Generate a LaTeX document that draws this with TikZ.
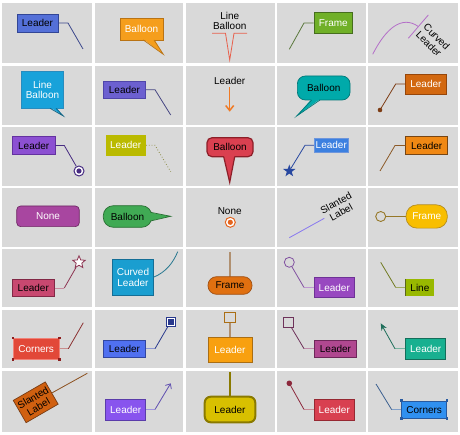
\documentclass[tikz,border=0pt]{standalone}
\usepackage{fontspec}
\setmainfont{Liberation Sans}
\usetikzlibrary{arrows.meta,shapes.geometric}
\newcommand\lf{\fontsize{10}{10.5}\selectfont}
\definecolor{cellgray}{RGB}{217,217,217}
\definecolor{c11}{RGB}{84,112,216}\definecolor{d11}{RGB}{50,70,150}\definecolor{l11}{RGB}{60,72,140}
\definecolor{c12}{RGB}{245,158,28}\definecolor{d12}{RGB}{185,115,20}
\definecolor{l13}{RGB}{232,96,76}
\definecolor{c14}{RGB}{112,176,40}\definecolor{d14}{RGB}{70,110,30}\definecolor{l14}{RGB}{90,120,60}
\definecolor{l15}{RGB}{180,110,200}
\definecolor{c21}{RGB}{24,162,218}\definecolor{d21}{RGB}{40,140,190}\definecolor{t21}{RGB}{20,100,130}
\definecolor{c22}{RGB}{108,96,208}\definecolor{d22}{RGB}{80,70,170}\definecolor{l22}{RGB}{70,70,130}
\definecolor{l23}{RGB}{240,122,36}
\definecolor{c24}{RGB}{0,170,170}\definecolor{d24}{RGB}{0,120,120}
\definecolor{c25}{RGB}{210,104,16}\definecolor{d25}{RGB}{150,70,10}\definecolor{l25}{RGB}{125,60,20}
\definecolor{c31}{RGB}{140,80,210}\definecolor{d31}{RGB}{100,50,160}\definecolor{l31}{RGB}{72,44,130}
\definecolor{c32}{RGB}{186,186,0}\definecolor{l32}{RGB}{140,140,70}
\definecolor{c33}{RGB}{218,64,80}\definecolor{d33}{RGB}{140,30,40}
\definecolor{c34}{RGB}{60,128,224}\definecolor{d34}{RGB}{110,150,220}\definecolor{l34}{RGB}{40,72,160}
\definecolor{c35}{RGB}{240,136,20}\definecolor{d35}{RGB}{120,70,20}\definecolor{l35}{RGB}{140,90,40}
\definecolor{c41}{RGB}{168,70,160}\definecolor{d41}{RGB}{110,40,100}
\definecolor{c42}{RGB}{64,170,84}\definecolor{d42}{RGB}{40,110,50}
\definecolor{l43}{RGB}{228,100,30}
\definecolor{l44}{RGB}{136,120,240}
\definecolor{c45}{RGB}{248,190,0}\definecolor{d45}{RGB}{180,140,30}\definecolor{l45}{RGB}{150,120,40}
\definecolor{c51}{RGB}{200,72,112}\definecolor{d51}{RGB}{130,40,70}\definecolor{l51}{RGB}{140,50,80}\definecolor{lt51}{RGB}{200,140,160}
\definecolor{c52}{RGB}{26,158,208}\definecolor{d52}{RGB}{20,110,150}\definecolor{l52}{RGB}{40,120,144}
\definecolor{c53}{RGB}{224,112,16}\definecolor{d53}{RGB}{160,80,20}\definecolor{l53}{RGB}{176,144,112}
\definecolor{c54}{RGB}{152,72,192}\definecolor{d54}{RGB}{110,50,150}\definecolor{l54}{RGB}{128,80,160}\definecolor{lt54}{RGB}{190,150,210}
\definecolor{c55}{RGB}{152,184,0}\definecolor{d55}{RGB}{90,100,30}\definecolor{l55}{RGB}{112,122,32}\definecolor{lt55}{RGB}{160,170,100}
\definecolor{c61}{RGB}{226,72,56}\definecolor{d61}{RGB}{240,130,120}\definecolor{k61}{RGB}{140,30,30}\definecolor{l61}{RGB}{140,50,50}\definecolor{lt61}{RGB}{200,140,140}
\definecolor{c62}{RGB}{80,112,240}\definecolor{d62}{RGB}{50,70,160}\definecolor{l62}{RGB}{40,56,140}\definecolor{lt62}{RGB}{140,150,210}
\definecolor{c63}{RGB}{248,160,16}\definecolor{d63}{RGB}{170,110,20}\definecolor{l63}{RGB}{176,144,112}
\definecolor{c64}{RGB}{176,72,144}\definecolor{d64}{RGB}{110,40,90}\definecolor{l64}{RGB}{110,50,90}\definecolor{lt64}{RGB}{190,140,170}
\definecolor{c65}{RGB}{24,176,144}\definecolor{d65}{RGB}{20,110,90}\definecolor{l65}{RGB}{30,110,90}\definecolor{lt65}{RGB}{120,180,160}
\definecolor{c71}{RGB}{208,96,16}\definecolor{d71}{RGB}{120,60,20}\definecolor{l71}{RGB}{140,80,30}
\definecolor{c72}{RGB}{136,84,238}\definecolor{d72}{RGB}{90,60,170}\definecolor{l72}{RGB}{96,80,176}\definecolor{lt72}{RGB}{160,150,220}
\definecolor{c73}{RGB}{216,192,0}\definecolor{d73}{RGB}{138,122,0}
\definecolor{c74}{RGB}{216,64,80}\definecolor{d74}{RGB}{150,40,50}\definecolor{l74}{RGB}{140,40,60}\definecolor{lt74}{RGB}{200,140,150}
\definecolor{c75}{RGB}{48,144,240}\definecolor{d75}{RGB}{40,90,160}\definecolor{l75}{RGB}{60,96,144}\definecolor{lt75}{RGB}{130,160,200}
\begin{document}
\begin{tikzpicture}[x=1pt,y=-1pt,
  bx/.style={draw, line width=0.7pt, inner sep=0pt, font=\lf, align=center},
  txt/.style={inner sep=1pt, font=\lf, align=center},
  ld/.style={line width=0.8pt}]
\useasboundingbox (0,0) rectangle (460,435);
\fill[white] (0,0) rectangle (460,435);
\foreach \xa/\xb in {2/92,95/183,186/275,277/366,368/458}
  \foreach \ya/\yb in {3/63,66/125,127/186,188/247,249/307,310/368,371/432}
    \fill[cellgray] (\xa,\ya) rectangle (\xb,\yb);
% ---------- row 1
\node[bx, fill=c11, draw=d11, minimum width=41pt, minimum height=18pt] (n11) at (37.5,23) {Leader};
\coordinate (b11) at (68,23); \coordinate (e11) at (83,49);
\draw[ld,l11] (n11.east) -- (b11) -- (e11);
\node[bx, fill=c12, draw=d12, text=white, minimum width=43pt, minimum height=22pt] (n12) at (141.5,29) {Balloon};
\fill[c12] (143.3,39) -- (154,39) -- (163.3,54.3) -- cycle;
\draw[line width=0.7pt,d12] (143.3,40) -- (163.3,54.3) -- (154,40);
\node[txt] (n13) at (229.7,21) {Line\\Balloon};
\draw[ld,l13] (212,33.3) -- (225.5,33.3) -- (229.7,60) -- (234,33.3) -- (247,33.3);
\node[bx, fill=c14, draw=d14, text=white, minimum width=38.7pt, minimum height=20.6pt] (n14) at (333.3,23) {Frame};
\coordinate (b14) at (304,23); \coordinate (e14) at (289.3,49.3);
\draw[ld,l14] (n14.west) -- (b14) -- (e14);
\node[txt, rotate=-45, align=left] (n15) at (433,40.5) {Curved\\Leader};
\coordinate (s15) at (372.7,54.3); \coordinate (e15) at (418.3,26.5);
\draw[ld,l15] (s15) .. controls (386,28) and (402,15) .. (e15);
\draw[ld,l15] (408.3,38.3) -- (428.3,15);
% ---------- row 2
\node[bx, fill=c21, draw=d21, text=white, minimum width=41.6pt, minimum height=36.6pt] (n21) at (42.5,90) {Line\\Balloon};
\fill[c21] (50,107.3) -- (56,107.3) -- (63.3,116) -- cycle;
\draw[line width=0.7pt,t21] (50,108.3) -- (63.3,116) -- (56,108.3);
\node[bx, fill=c22, draw=d22, minimum width=42.4pt, minimum height=17.3pt] (n22) at (124.5,89.7) {Leader};
\coordinate (b22) at (155,89.7); \coordinate (e22) at (170.7,115);
\draw[ld,l22] (n22.east) -- (b22) -- (e22);
\node[txt, inner sep=2.5pt] (n23) at (229.7,80.7) {Leader};
\coordinate (e23) at (229.7,111.7);
\draw[line width=1.5pt, l23, -{Straight Barb[length=5pt,width=8pt]}] (n23) -- (e23);
\node[bx, fill=c24, draw=d24, rounded corners=8pt, minimum width=52.7pt, minimum height=24pt] (n24) at (323.7,88) {Balloon};
\fill[c24] (311.7,99) -- (320,99) -- (296.7,116) -- cycle;
\draw[line width=0.7pt,d24] (311.7,100) -- (296.7,116) -- (320,100);
\node[bx, fill=c25, draw=d25, text=white, minimum width=40.3pt, minimum height=20pt] (n25) at (425.9,84) {Leader};
\coordinate (b25) at (395.7,84); \coordinate (e25) at (380,110);
\draw[ld,l25] (n25.west) -- (b25) -- (e25);
\fill[l25] (e25) circle (2.3);
% ---------- row 3
\node[bx, fill=c31, draw=d31, minimum width=42.7pt, minimum height=17.6pt] (n31) at (33.7,145.5) {Leader};
\coordinate (b31) at (64.3,145.5);
\node[circle, draw=l31, fill=white, line width=1pt, minimum size=10pt, inner sep=0pt] (t31) at (79,171) {};
\draw[ld,l31] (n31.east) -- (b31) -- (t31);
\fill[l31] (t31.center) circle (2.6);
\node[bx, draw=none, fill=c32, text=white, minimum width=40pt, minimum height=20.7pt] (n32) at (125.7,145.3) {Leader};
\coordinate (b32) at (155,145.3); \coordinate (e32) at (170.7,171.7);
\draw[ld,l32,dotted] (n32.east) -- (b32) -- (e32);
\node[bx, fill=c33, draw=d33, line width=1.2pt, rounded corners=5pt, minimum width=46pt, minimum height=19pt] (n33) at (230,147.2) {Balloon};
\fill[c33] (223.7,155.5) -- (234.7,155.5) -- (229.7,182.3) -- cycle;
\draw[line width=1.2pt,d33] (223.7,156.7) -- (229.7,182.3) -- (234.7,156.7);
\node[bx, fill=c34, draw=d34, text=white, minimum width=34pt, minimum height=14pt] (n34) at (331.3,145.3) {Leader};
\coordinate (b34) at (305,145.3);
\node[star, star points=5, star point ratio=2.5, fill=l34, minimum size=13pt, inner sep=0pt] (s34) at (289.3,171) {};
\draw[ld,l34] (n34.west) -- (b34) -- (s34);
\node[bx, fill=c35, draw=d35, minimum width=42pt, minimum height=17.6pt] (n35) at (426.7,145.5) {Leader};
\coordinate (b35) at (395,145.5); \coordinate (e35) at (380,171);
\draw[ld,l35] (n35.west) -- (b35) -- (e35);
% ---------- row 4
\node[bx, fill=c41, draw=d41, text=white, rounded corners=4pt, minimum width=62.6pt, minimum height=20.7pt] (n41) at (48,216.3) {None};
\node[bx, fill=c42, draw=d42, rounded corners=10pt, minimum width=48.4pt, minimum height=21.6pt] (n42) at (127.5,216.5) {Balloon};
\fill[c42] (149,212.3) -- (149,221) -- (170.7,216.3) -- cycle;
\draw[line width=0.7pt,d42] (150.5,212.3) -- (170.7,216.3) -- (150.5,221);
\node[txt] (n43) at (229.7,210.7) {None};
\node[circle, draw=l43, fill=white, line width=1pt, minimum size=10pt, inner sep=0pt] (t43) at (230.3,222.3) {};
\fill[l43] (t43.center) circle (2.6);
\node[txt, rotate=29] (n44) at (338.5,207.5) {Slanted\\Label};
\coordinate (s44) at (289.3,237.7); \coordinate (e44) at (324.3,218.3);
\draw[ld,l44] (s44) -- (e44);
\node[bx, fill=c45, draw=d45, text=white, rounded corners=11pt, minimum width=41.3pt, minimum height=23.3pt] (n45) at (426.7,216.5) {Frame};
\node[circle, draw=l45, line width=0.9pt, minimum size=10pt, inner sep=0pt] (t45) at (380.7,216.5) {};
\draw[ld,l45] (t45.east) -- (n45.west);
% ---------- row 5
\node[bx, fill=c51, draw=d51, minimum width=42pt, minimum height=17.4pt] (n51) at (33.3,288) {Leader};
\coordinate (b51) at (64.3,288);
\node[star, star points=5, star point ratio=2.2, draw=l51, fill=white, line width=0.8pt, minimum size=13pt, inner sep=0pt] (s51) at (79,262.3) {};
\draw[ld,lt51] (n51.east) -- (b51);
\draw[ld,l51] (b51) -- (s51);
\node[bx, fill=c52, draw=d52, text=white, minimum width=40.6pt, minimum height=35.7pt] (n52) at (133,277.2) {Curved\\Leader};
\coordinate (e52) at (177.7,251.7);
\draw[ld,l52] (n52.east) .. controls (166,272) and (173,263) .. (e52);
\coordinate (e53) at (230,251.7);
\draw[line width=1.5pt,l53] (230,280) -- (e53);
\node[bx, fill=c53, draw=d53, rounded corners=8.5pt, minimum width=44pt, minimum height=17.6pt] (n53) at (230,285.5) {Frame};
\node[bx, fill=c54, draw=d54, text=white, minimum width=40pt, minimum height=20.4pt] (n54) at (334.3,287.5) {Leader};
\coordinate (b54) at (304,287.5);
\node[circle, draw=l54, line width=0.8pt, minimum size=10pt, inner sep=0pt] (t54) at (289.3,262.3) {};
\draw[ld,lt54] (n54.west) -- (b54);
\draw[ld,l54] (b54) -- (t54);
\node[bx, draw=none, fill=c55, minimum width=28.3pt, minimum height=16.4pt] (n55) at (419.9,287.5) {Line};
\draw[line width=1.3pt,d55] (n55.north west) -- (n55.south west);
\coordinate (b55) at (395.7,287.5); \coordinate (e55) at (380.7,262.3);
\draw[ld,lt55] (n55.west) -- (b55);
\draw[ld,l55] (b55) -- (e55);
% ---------- row 6
\node[bx, fill=c61, draw=d61, text=white, minimum width=45.7pt, minimum height=21pt] (n61) at (36.2,348.8) {Corners};
\foreach \a in {north west,north east,south west,south east}
  \fill[k61] (n61.\a) ++(-1.3,-1.3) rectangle ++(2.6,2.6);
\coordinate (b61) at (68.3,348.8); \coordinate (e61) at (83.3,322.7);
\draw[ld,lt61] (n61.east) -- (b61);
\draw[ld,l61] (b61) -- (e61);
\node[bx, fill=c62, draw=d62, minimum width=42.4pt, minimum height=17.3pt] (n62) at (124.5,348.7) {Leader};
\coordinate (b62) at (155,348.7);
\node[draw=l62, fill=white, line width=0.8pt, minimum size=9.5pt, inner sep=0pt] (q62) at (170.7,321.7) {};
\fill[l62] (q62.center) ++(-3,-3) rectangle ++(6,6);
\draw[ld,lt62] (n62.east) -- (b62);
\draw[ld,l62] (b62) -- (q62);
\node[bx, fill=c63, draw=d63, text=white, minimum width=44pt, minimum height=25pt] (n63) at (230,349.8) {Leader};
\node[draw=d63, line width=0.8pt, minimum size=10.5pt, inner sep=0pt] (q63) at (230,317.3) {};
\draw[line width=1.5pt,l63] (q63.south) -- (n63.north);
\node[bx, fill=c64, draw=d64, minimum width=42.4pt, minimum height=17.3pt] (n64) at (335.5,348.7) {Leader};
\coordinate (b64) at (304,348.7);
\node[draw=l64, line width=0.8pt, minimum size=10pt, inner sep=0pt] (q64) at (288.3,322.3) {};
\draw[ld,lt64] (n64.west) -- (b64);
\draw[ld,l64] (b64) -- (q64);
\node[bx, fill=c65, draw=d65, text=white, minimum width=40pt, minimum height=21pt] (n65) at (425.7,348.8) {Leader};
\coordinate (b65) at (395,348.8); \coordinate (e65) at (380.7,323.3);
\draw[ld,lt65] (n65.west) -- (b65);
\draw[ld,l65,-{Stealth[length=7pt,width=6pt]}] (b65) -- (e65);
% ---------- row 7
\node[bx, fill=c71, draw=d71, rotate=30, minimum width=37pt, minimum height=25.7pt] (n71) at (35.7,402.3) {Slanted\\Label};
\coordinate (e71) at (87.3,373.3);
\draw[ld,l71] (n71.east) -- (e71);
\node[bx, fill=c72, draw=d72, text=white, minimum width=40pt, minimum height=21pt] (n72) at (125.7,409.5) {Leader};
\coordinate (b72) at (155,409.5); \coordinate (e72) at (170.7,383.3);
\draw[ld,lt72] (n72.east) -- (b72);
\draw[ld,l72,-{Straight Barb[length=4pt,width=7pt]}] (b72) -- (e72);
\coordinate (e73) at (230,371.7);
\draw[line width=1.8pt,d73] (230,400) -- (e73);
\node[bx, fill=c73, draw=d73, line width=2pt, rounded corners=6pt, minimum width=50.6pt, minimum height=25.6pt] (n73) at (230,409.5) {Leader};
\node[bx, fill=c74, draw=d74, text=white, minimum width=40pt, minimum height=21pt] (n74) at (334.3,409.5) {Leader};
\coordinate (b74) at (304,409.5); \coordinate (e74) at (289.3,383.3);
\draw[ld,lt74] (n74.west) -- (b74);
\draw[ld,l74] (b74) -- (e74);
\fill[l74] (e74) circle (2.8);
\node[bx, fill=c75, draw=d75, minimum width=45pt, minimum height=17.3pt] (n75) at (424.2,409.7) {Corners};
\foreach \a in {north west,north east,south west,south east}
  \fill[d75] (n75.\a) ++(-1.3,-1.3) rectangle ++(2.6,2.6);
\coordinate (b75) at (391.7,409.7); \coordinate (e75) at (376,384);
\draw[ld,lt75] (n75.west) -- (b75);
\draw[ld,l75] (b75) -- (e75);
\end{tikzpicture}
\end{document}
